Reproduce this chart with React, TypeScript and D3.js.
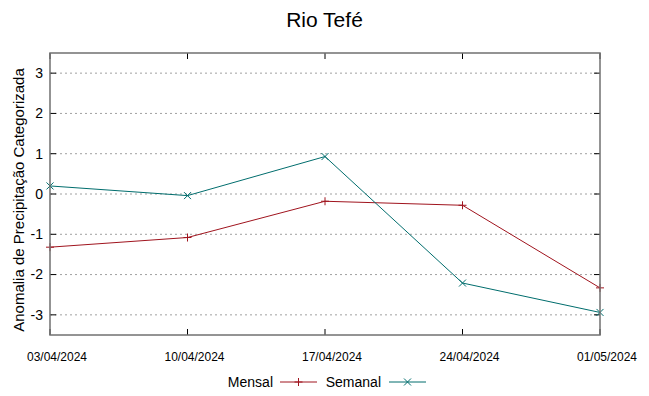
import React from "react";
import * as d3 from "d3";

const dates = ["03/04/2024", "10/04/2024", "17/04/2024", "24/04/2024", "01/05/2024"];
const mensal = [-1.32, -1.08, -0.18, -0.28, -2.33];
const semanal = [0.2, -0.04, 0.93, -2.21, -2.94];
const yTicks = [-3, -2, -1, 0, 1, 2, 3];

const W = 649;
const H = 396;
const margin = { top: 53, right: 49, bottom: 61, left: 50 };
const font = "'Liberation Sans', Arial, sans-serif";
const RED = "#a0141e";
const TEAL = "#006d6d";

export default function App() {
  const iw = W - margin.left - margin.right;
  const ih = H - margin.top - margin.bottom;

  const x = d3.scalePoint<string>().domain(dates).range([0, iw]);
  const y = d3.scaleLinear().domain([-3.5, 3.5]).range([ih, 0]);

  const line = d3
    .line<number>()
    .x((_, i) => x(dates[i]) as number)
    .y((d) => y(d));

  const plus = (cx: number, cy: number, c: string, k: string) => (
    <g key={k} stroke={c} strokeWidth={1}>
      <line x1={cx - 4} x2={cx + 4} y1={cy} y2={cy} />
      <line x1={cx} x2={cx} y1={cy - 4} y2={cy + 4} />
    </g>
  );
  const cross = (cx: number, cy: number, c: string, k: string) => (
    <g key={k} stroke={c} strokeWidth={1}>
      <line x1={cx - 3.5} x2={cx + 3.5} y1={cy - 3.5} y2={cy + 3.5} />
      <line x1={cx - 3.5} x2={cx + 3.5} y1={cy + 3.5} y2={cy - 3.5} />
    </g>
  );

  return (
    <svg
      width={W}
      height={H}
      style={{ position: "absolute", left: 0, top: 0, background: "#fff" }}
      fontFamily={font}
    >
      <text x={W / 2} y={27} textAnchor="middle" fontSize={21} fill="#000">
        Rio Tefé
      </text>
      <text
        transform={`translate(24,${margin.top + ih / 2 + 6}) rotate(-90)`}
        textAnchor="middle"
        fontSize={15}
        fill="#000"
      >
        Anomalia de Precipitação Categorizada
      </text>

      <g transform={`translate(${margin.left},${margin.top})`}>
        {yTicks.map((t) => (
          <g key={"y" + t}>
            <line
              x1={0}
              x2={iw}
              y1={y(t)}
              y2={y(t)}
              stroke="#a0a0a0"
              strokeWidth={1}
              strokeDasharray="2,3"
            />
            <line x1={0} x2={6} y1={y(t)} y2={y(t)} stroke="#000" />
            <line x1={iw - 6} x2={iw} y1={y(t)} y2={y(t)} stroke="#000" />
            <text
              x={-7}
              y={y(t)}
              dy="0.35em"
              textAnchor="end"
              fontSize={14}
              fill="#000"
            >
              {t}
            </text>
          </g>
        ))}
        {dates.map((d) => (
          <g key={d}>
            <line x1={x(d)} x2={x(d)} y1={ih} y2={ih - 6} stroke="#000" />
            <line x1={x(d)} x2={x(d)} y1={0} y2={6} stroke="#000" />
            <text
              x={(x(d) as number) + 7}
              y={ih + 26}
              textAnchor="middle"
              fontSize={12}
              fill="#000"
            >
              {d}
            </text>
          </g>
        ))}

        <path d={line(mensal) ?? ""} fill="none" stroke={RED} strokeWidth={1} />
        <path d={line(semanal) ?? ""} fill="none" stroke={TEAL} strokeWidth={1} />
        {mensal.map((v, i) => plus(x(dates[i]) as number, y(v), RED, "m" + i))}
        {semanal.map((v, i) => cross(x(dates[i]) as number, y(v), TEAL, "s" + i))}

        <rect
          x={0}
          y={0}
          width={iw}
          height={ih}
          fill="none"
          stroke="#707070"
          strokeWidth={1.5}
        />
      </g>

      <g transform={`translate(0,${H - 14})`}>
        <text x={273} y={0} dy="0.35em" textAnchor="end" fontSize={14} fill="#000">
          Mensal
        </text>
        <line x1={280} x2={317} y1={0} y2={0} stroke={RED} />
        {plus(298.5, 0, RED, "lm")}
        <text x={381} y={0} dy="0.35em" textAnchor="end" fontSize={14} fill="#000">
          Semanal
        </text>
        <line x1={389} x2={426} y1={0} y2={0} stroke={TEAL} />
        {cross(407.5, 0, TEAL, "ls")}
      </g>
    </svg>
  );
}
